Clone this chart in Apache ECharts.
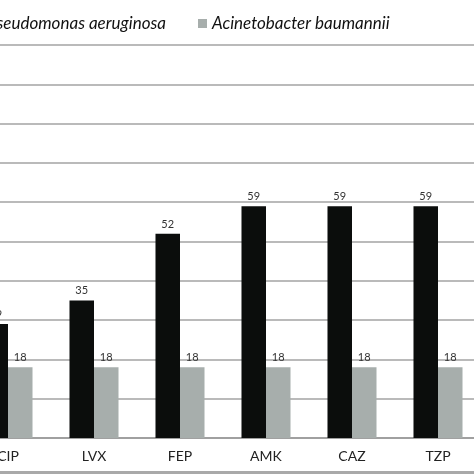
<!DOCTYPE html>
<html>
<head>
<meta charset="utf-8">
<script src="https://cdn.jsdelivr.net/npm/echarts@6/dist/echarts.min.js"></script>
<style>
    html, body { margin: 0; padding: 0; background: #fff; overflow: hidden; }
    #wrap { width: 474px; height: 474px; overflow: hidden; position: relative; }
    /* 原图左右被裁掉，容器加宽后左移 */
    #main { position: absolute; left: -35px; top: 0; width: 516px; height: 471px; }
    #line { position: absolute; left: 0; top: 471px; width: 474px; height: 3px; background: #a9a9a9; }
</style>
</head>
<body>
<div id="wrap">
    <div id="main"></div>
    <div id="line"></div>
</div>
<script>
var categories = ['CIP', 'LVX', 'FEP', 'AMK', 'CAZ', 'TZP'];
var pseudomonas = [29, 35, 52, 59, 59, 59];
var acinetobacter = [18, 18, 18, 18, 18, 18];
var seriesNames = ['Pseudomonas aeruginosa', 'Acinetobacter baumannii'];

(function() {
    var myChart = echarts.init(document.getElementById('main'));
    var labelStyle = {
        show: true,
        position: 'top',
        distance: 4,
        color: '#333',
        fontSize: 11,
        fontFamily: 'Lato'
    };
    var legendText = {
        fontSize: 17,
        fontStyle: 'italic',
        fontFamily: 'Lato',
        color: '#111'
    };
    var option = {
        animation: false,
        legend: [{
            data: [seriesNames[0]],
            right: 315,
            top: 15,
            padding: 0,
            icon: 'rect',
            itemWidth: 9,
            itemHeight: 9,
            textStyle: legendText
        }, {
            data: [seriesNames[1]],
            left: 233,
            top: 15,
            padding: 0,
            icon: 'rect',
            itemWidth: 9,
            itemHeight: 9,
            textStyle: legendText
        }],
        grid: {
            left: 0,
            right: 0,
            top: 45,
            bottom: 33,
            containLabel: false
        },
        xAxis: {
            type: 'category',
            data: categories,
            axisLine: {
                lineStyle: { color: '#999', width: 1.5 }
            },
            axisTick: {
                inside: true,
                length: 4,
                lineStyle: { color: '#999' }
            },
            axisLabel: {
                color: '#222',
                fontSize: 14,
                fontFamily: 'Lato',
                margin: 11
            }
        },
        yAxis: {
            type: 'value',
            min: 0,
            max: 100,
            interval: 10,
            axisLabel: { show: false },
            axisLine: { show: false },
            axisTick: { show: false },
            splitLine: {
                lineStyle: { color: '#a3a3a3', width: 1.5 }
            }
        },
        series: [{
            name: seriesNames[0],
            type: 'bar',
            data: pseudomonas,
            barGap: '0%',
            barCategoryGap: '43%',
            itemStyle: { color: '#0b0d0c' },
            label: labelStyle
        }, {
            name: seriesNames[1],
            type: 'bar',
            data: acinetobacter,
            itemStyle: { color: '#a7aeac' },
            label: labelStyle
        }]
    };
    myChart.setOption(option);
    window.addEventListener("resize", function() {
        myChart.resize();
    });
})();
</script>
</body>
</html>
